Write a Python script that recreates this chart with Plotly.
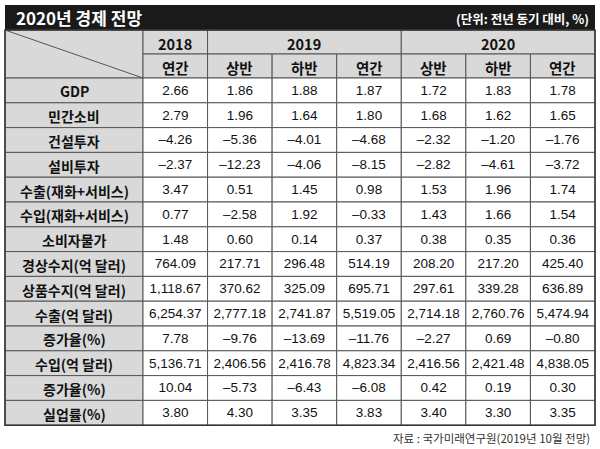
import plotly.graph_objects as go

# data
title = "2020년 경제 전망"
unit_note = "(단위: 전년 동기 대비, %)"
source_note = "자료 : 국가미래연구원(2019년 10월 전망)"

years = ["2018", "2019", "2020"]
year_span = [1, 3, 3]
periods = ["연간", "상반", "하반", "연간", "상반", "하반", "연간"]

items = ["GDP", "민간소비", "건설투자", "설비투자", "수출(재화+서비스)", "수입(재화+서비스)",
         "소비자물가", "경상수지(억 달러)", "상품수지(억 달러)", "수출(억 달러)", "증가율(%)",
         "수입(억 달러)", "증가율(%)", "실업률(%)"]

y2018_year = [2.66, 2.79, -4.26, -2.37, 3.47, 0.77, 1.48, 764.09, 1118.67, 6254.37, 7.78, 5136.71, 10.04, 3.80]
y2019_h1 = [1.86, 1.96, -5.36, -12.23, 0.51, -2.58, 0.60, 217.71, 370.62, 2777.18, -9.76, 2406.56, -5.73, 4.30]
y2019_h2 = [1.88, 1.64, -4.01, -4.06, 1.45, 1.92, 0.14, 296.48, 325.09, 2741.87, -13.69, 2416.78, -6.43, 3.35]
y2019_year = [1.87, 1.80, -4.68, -8.15, 0.98, -0.33, 0.37, 514.19, 695.71, 5519.05, -11.76, 4823.34, -6.08, 3.83]
y2020_h1 = [1.72, 1.68, -2.32, -2.82, 1.53, 1.43, 0.38, 208.20, 297.61, 2714.18, -2.27, 2416.56, 0.42, 3.40]
y2020_h2 = [1.83, 1.62, -1.20, -4.61, 1.96, 1.66, 0.35, 217.20, 339.28, 2760.76, 0.69, 2421.48, 0.19, 3.30]
y2020_year = [1.78, 1.65, -1.76, -3.72, 1.74, 1.54, 0.36, 425.40, 636.89, 5474.94, -0.80, 4838.05, 0.30, 3.35]

columns = [y2018_year, y2019_h1, y2019_h2, y2019_year, y2020_h1, y2020_h2, y2020_year]

# geometry (pixel-like axis units)
W, H = 600, 449
left, right = 5, 595
label_w = 138
title_top, title_bot = 5, 30
head_h = 24
row_h = 24.8
ncol = len(columns)
col_w = (right - left - label_w) / ncol
x_edges = [left, left + label_w] + [left + label_w + col_w * (i + 1) for i in range(ncol)]
head1_top = title_bot
head2_top = head1_top + head_h
body_top = head2_top + head_h
body_bot = body_top + row_h * len(items)

GRAY = "#d9d9d9"
LINE = "#555555"
KR = "Noto Sans CJK KR"
NUM = "Liberation Sans"


def fmt(v):
    s = f"{abs(v):,.2f}"
    return ("–" + s) if v < 0 else s


fig = go.Figure()
shapes = []
annotations = []


def cell(x0, x1, y0, y1, fill):
    shapes.append(dict(type="rect", x0=x0, x1=x1, y0=y0, y1=y1, fillcolor=fill,
                       line=dict(color=LINE, width=1), layer="below"))


# title bar
shapes.append(dict(type="rect", x0=left, x1=right, y0=title_top, y1=title_bot,
                   fillcolor="#1a1a1a", line=dict(width=0), layer="below"))
annotations.append(dict(x=left + 9, y=(title_top + title_bot) / 2, text="<b>" + title + "</b>",
                        xanchor="left", yanchor="middle", showarrow=False,
                        font=dict(family=KR, size=17, color="white")))
annotations.append(dict(x=right - 4, y=(title_top + title_bot) / 2 + 1, text="<b>" + unit_note + "</b>",
                        xanchor="right", yanchor="middle", showarrow=False,
                        font=dict(family=KR, size=12.5, color="white")))

# header corner
cell(x_edges[0], x_edges[1], head1_top, body_top, GRAY)
shapes.append(dict(type="line", x0=x_edges[0], y0=head1_top, x1=x_edges[1], y1=body_top,
                   line=dict(color=LINE, width=1)))

# year header
c = 0
for yr, span in zip(years, year_span):
    x0, x1 = x_edges[1 + c], x_edges[1 + c + span]
    cell(x0, x1, head1_top, head2_top, GRAY)
    annotations.append(dict(x=(x0 + x1) / 2, y=(head1_top + head2_top) / 2 + 1, text="<b>" + yr + "</b>",
                            showarrow=False, font=dict(family=KR, size=14.5, color="#111")))
    c += span

# period header
for i, p in enumerate(periods):
    x0, x1 = x_edges[1 + i], x_edges[2 + i]
    cell(x0, x1, head2_top, body_top, GRAY)
    annotations.append(dict(x=(x0 + x1) / 2, y=(head2_top + body_top) / 2 + 1, text="<b>" + p + "</b>",
                            showarrow=False, font=dict(family=KR, size=14.5, color="#111")))

# body
for r, name in enumerate(items):
    y0 = body_top + r * row_h
    y1 = y0 + row_h
    cell(x_edges[0], x_edges[1], y0, y1, GRAY)
    annotations.append(dict(x=(x_edges[0] + x_edges[1]) / 2, y=(y0 + y1) / 2 + 1, text="<b>" + name + "</b>",
                            showarrow=False, font=dict(family=KR, size=14, color="#111")))
    for i in range(ncol):
        cell(x_edges[1 + i], x_edges[2 + i], y0, y1, "white")

# outer frame
shapes.append(dict(type="rect", x0=left, x1=right, y0=head1_top, y1=body_bot,
                   line=dict(color="#333", width=1.5)))

# values
for i, col in enumerate(columns):
    xc = (x_edges[1 + i] + x_edges[2 + i]) / 2
    fig.add_trace(go.Scatter(
        x=[xc] * len(col),
        y=[body_top + (r + 0.5) * row_h + 1 for r in range(len(col))],
        mode="text",
        text=[fmt(v) for v in col],
        textposition="middle center",
        textfont=dict(family=NUM, size=13.5, color="#111"),
        hoverinfo="skip",
        showlegend=False))

annotations.append(dict(x=right - 3, y=body_bot + 13, text=source_note, xanchor="right", yanchor="middle",
                        showarrow=False, font=dict(family=KR, size=11.5, color="#333")))

fig.update_layout(
    width=W, height=H,
    margin=dict(l=0, r=0, t=0, b=0),
    paper_bgcolor="white", plot_bgcolor="white",
    xaxis=dict(range=[0, W], visible=False, fixedrange=True),
    yaxis=dict(range=[H, 0], visible=False, fixedrange=True),
    shapes=shapes,
    annotations=annotations,
)

# the page body has a default margin; drop it so the figure sits at the window corner
fig.write_html("out.html", config={"displayModeBar": False},
               post_script="document.body.style.margin='0';")
